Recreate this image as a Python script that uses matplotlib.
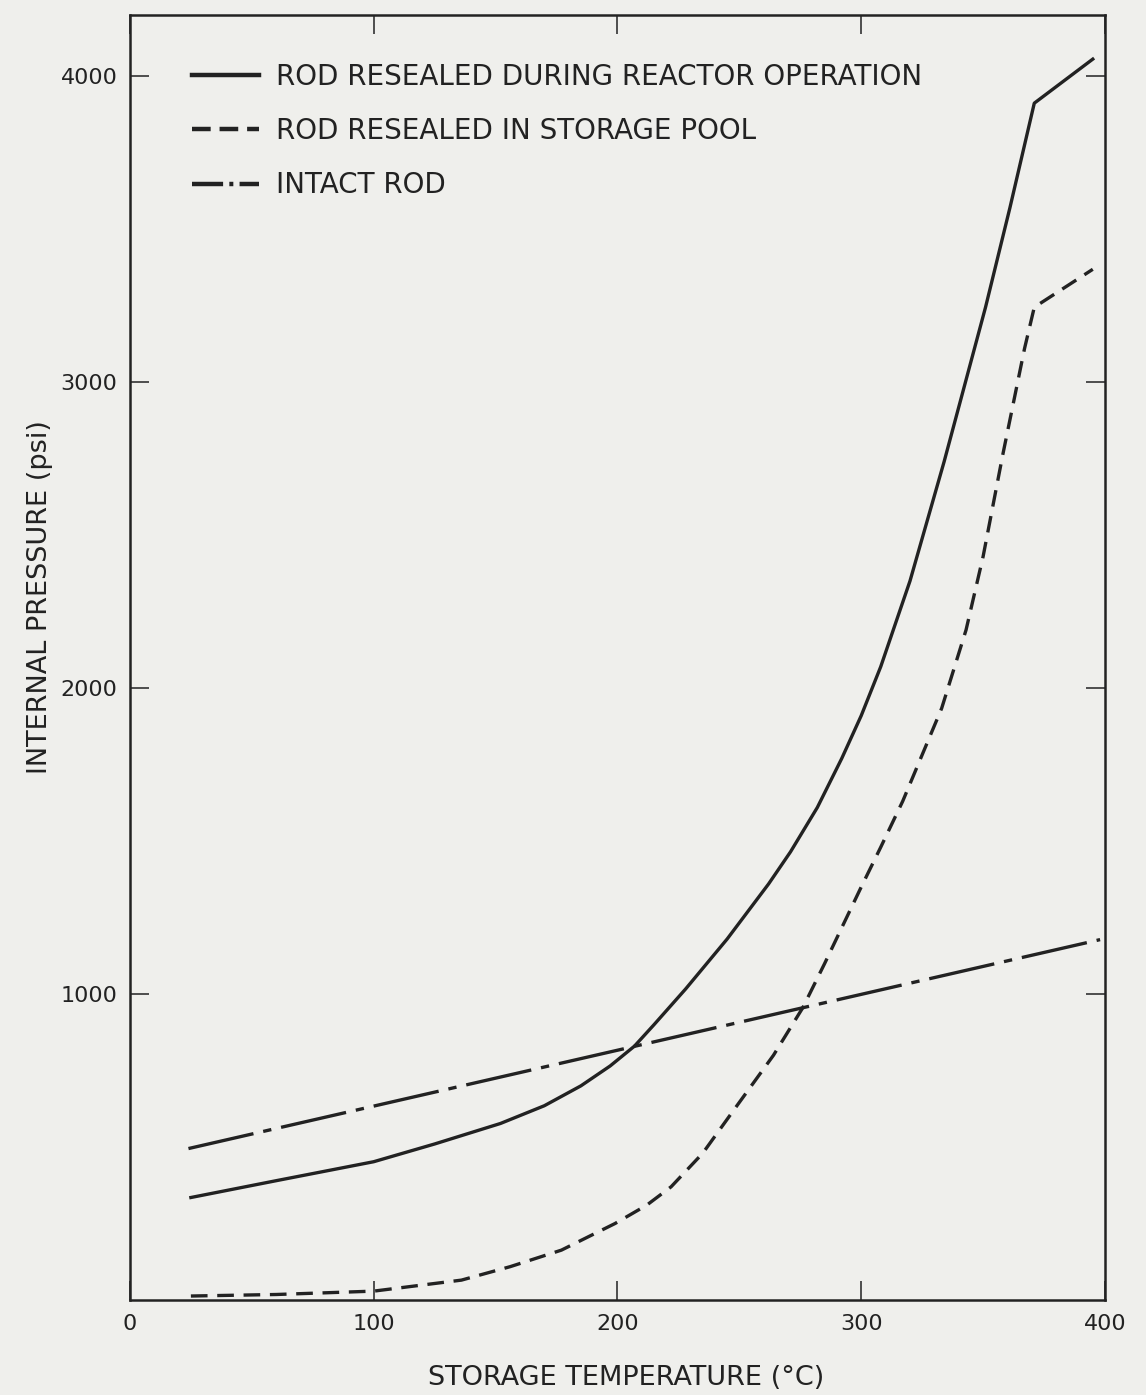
import matplotlib
matplotlib.use("Agg")
import matplotlib.pyplot as plt

# values
temp_reactor = [25, 60, 100, 125, 152, 170, 185, 197, 207, 215, 228, 245, 262, 271, 282,
                292, 300, 308, 320, 334, 351, 361, 371, 395]
press_reactor = [335, 390, 452, 510, 577, 635, 700, 765, 830, 900, 1017, 1180, 1360, 1465, 1610,
                 1770, 1910, 2070, 2350, 2740, 3245, 3570, 3912, 4056]

temp_pool = [25, 60, 100, 136, 156, 177, 199, 212, 222, 235, 249, 264, 276, 285, 300, 308,
             317, 333, 343, 350, 358, 367, 371, 395]
press_pool = [13, 18, 29, 65, 109, 163, 250, 310, 370, 480, 635, 800, 955, 1100, 1350, 1480,
              1630, 1934, 2190, 2430, 2760, 3110, 3245, 3369]

temp_intact = [24, 398]
press_intact = [495, 1178]

labels = ["ROD RESEALED DURING REACTOR OPERATION",
          "ROD RESEALED IN STORAGE POOL",
          "INTACT ROD"]

plt.rcParams['font.family'] = ['DejaVu Sans']
ink = '#222222'
bg = '#efefec'

fig = plt.figure(figsize=(11.46, 13.95), dpi=100, facecolor=bg)
ax = fig.add_axes([0.1134, 0.0681, 0.8508, 0.9211], facecolor=bg)

ax.plot(temp_reactor, press_reactor, color=ink, lw=2.4, label=labels[0])
ax.plot(temp_pool, press_pool, color=ink, lw=2.4, linestyle=(0, (5, 2.9)), label=labels[1])
ax.plot(temp_intact, press_intact, color=ink, lw=2.4,
        linestyle=(0, (20, 3, 2.5, 3)), label=labels[2])

ax.set_xlim(0, 400)
ax.set_ylim(0, 4200)
ax.set_xticks([0, 100, 200, 300, 400])
ax.set_yticks([1000, 2000, 3000, 4000])
ax.tick_params(direction='in', length=14, width=1.1, top=True, right=True,
               labelsize=16, colors=ink)
ax.tick_params(axis='x', pad=10)
ax.tick_params(axis='y', pad=9)
for s in ax.spines.values():
    s.set_linewidth(1.8)
    s.set_color(ink)

ax.set_xlabel('STORAGE TEMPERATURE (°C)', fontsize=19.5, color=ink)
ax.set_ylabel('INTERNAL PRESSURE (psi)', fontsize=19.5, color=ink)
ax.xaxis.set_label_coords(0.509, -0.0506)
ax.yaxis.set_label_coords(-0.079, 0.547)

leg = ax.legend(loc='upper left', bbox_to_anchor=(0.064, 0.963), frameon=False,
                borderpad=0, borderaxespad=0,
                fontsize=20, handlelength=2.4, handletextpad=0.62, labelspacing=0.95)
for t in leg.get_texts():
    t.set_color(ink)
handles = leg.get_lines()
for h in handles:
    h.set_linewidth(3.2)
handles[1].set_linestyle((0, (4.2, 2.0)))
handles[2].set_linestyle((0, (7, 1.4, 0.9, 1.4)))

fig.savefig('out.png', dpi=100, facecolor=bg)
